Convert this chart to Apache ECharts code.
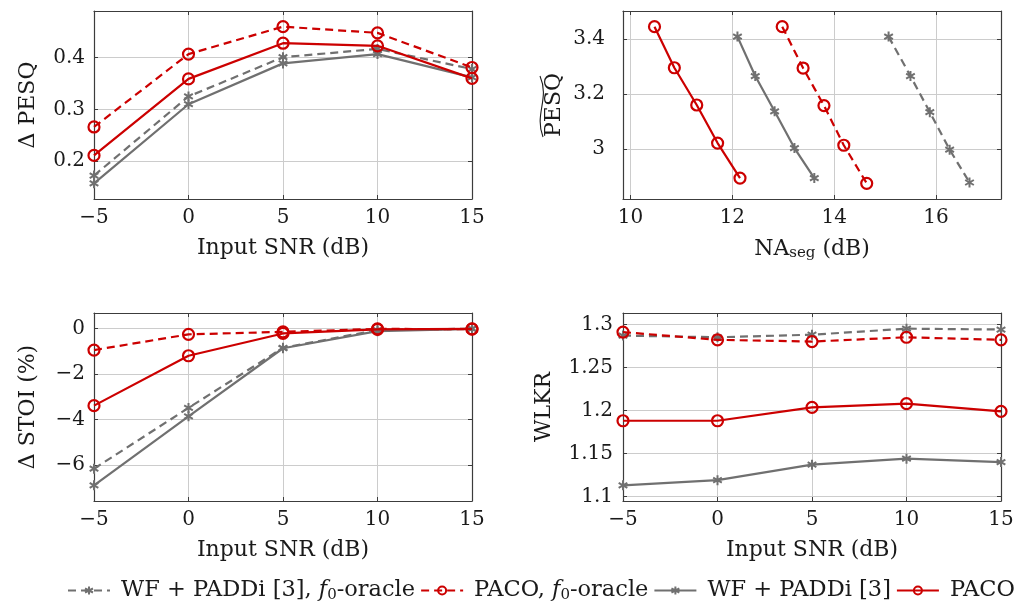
<!DOCTYPE html>
<html>
<head>
<meta charset="utf-8">
<script src="https://cdn.jsdelivr.net/npm/echarts@6/dist/echarts.min.js"></script>
<style>
  html, body { margin: 0; padding: 0; background: #fff; }
  #chart { width: 1024px; height: 604px; }
</style>
</head>
<body>
<div id="chart"></div>
<script>
// Input SNR values (dB) shared by three panels
const snr = [-5, 0, 5, 10, 15];

// Delta PESQ
const pesqWfOracle   = [0.172, 0.325, 0.401, 0.417, 0.378];
const pesqPacoOracle = [0.266, 0.407, 0.460, 0.448, 0.381];
const pesqWf         = [0.157, 0.310, 0.389, 0.407, 0.362];
const pesqPaco       = [0.211, 0.359, 0.428, 0.423, 0.360];

// PESQ vs. segmental noise attenuation trade-off
const naWfOracle   = [15.07, 15.50, 15.88, 16.27, 16.66];
const tpWfOracle   = [3.408, 3.265, 3.134, 2.998, 2.879];
const naPacoOracle = [12.98, 13.39, 13.80, 14.19, 14.64];
const tpPacoOracle = [3.444, 3.294, 3.158, 3.014, 2.876];
const naWf         = [12.10, 12.45, 12.83, 13.22, 13.61];
const tpWf         = [3.408, 3.265, 3.137, 3.004, 2.895];
const naPaco       = [10.47, 10.86, 11.30, 11.71, 12.15];
const tpPaco       = [3.444, 3.295, 3.160, 3.022, 2.895];

// Delta STOI (%)
const stoiWfOracle   = [-6.16, -3.49, -0.85, -0.07, -0.01];
const stoiPacoOracle = [-0.95, -0.26, -0.15, -0.02, -0.03];
const stoiWf         = [-6.89, -3.86, -0.87, -0.12, -0.02];
const stoiPaco       = [-3.39, -1.20, -0.22, -0.04, -0.02];

// WLKR
const wlkrWfOracle   = [1.287, 1.285, 1.288, 1.295, 1.294];
const wlkrPacoOracle = [1.291, 1.282, 1.280, 1.285, 1.282];
const wlkrWf         = [1.113, 1.119, 1.137, 1.144, 1.140];
const wlkrPaco       = [1.188, 1.188, 1.2035, 1.208, 1.199];

const names = ['WF + PADDi [3], f0-oracle', 'PACO, f0-oracle', 'WF + PADDi [3]', 'PACO'];

const RED = '#cc0000';
const GRAY = '#707070';
const FONT = 'DejaVu Serif';
const TXT = '#1a1a1a';
const BOX = '#3c3c3c';
const GRID = '#cccccc';

const ASTERISK = 'path://M0.5,0L0.5,1M0.067,0.25L0.933,0.75M0.067,0.75L0.933,0.25';

// axis range padded by 10% of the data span on both ends
function padded(arrs) {
  const all = [].concat(...arrs);
  const lo = Math.min(...all), hi = Math.max(...all);
  const d = (hi - lo) * 0.1;
  return [lo - d, hi + d];
}
const fmt = v => String(+v.toFixed(4)).replace('-', '\u2212');

const panels = [
  { left: 94, top: 11, x: [-5, 15], xStep: 5, yStep: 0.1,
    y: padded([pesqWfOracle, pesqPacoOracle, pesqWf, pesqPaco]),
    xName: 'Input SNR (dB)', yName: '\u0394 PESQ', yGap: 55, yMargin: 9 },
  { left: 623, top: 11, x: padded([naWfOracle, naPacoOracle, naWf, naPaco]), xStep: 2, yStep: 0.2,
    y: padded([tpWfOracle, tpPacoOracle, tpWf, tpPaco]),
    xName: '{a|NA}{b|seg}{a| (dB)}', yName: 'PESQ', yGap: 58, yMargin: 18 },
  { left: 94, top: 313, x: [-5, 15], xStep: 5, yStep: 2,
    y: padded([stoiWfOracle, stoiPacoOracle, stoiWf, stoiPaco]),
    xName: 'Input SNR (dB)', yName: '\u0394 STOI (%)', yGap: 55, yMargin: 9 },
  { left: 623, top: 313, x: [-5, 15], xStep: 5, yStep: 0.05,
    y: padded([wlkrWfOracle, wlkrPacoOracle, wlkrWf, wlkrPaco]),
    xName: 'Input SNR (dB)', yName: 'WLKR', yGap: 68, yMargin: 10 }
];

const grids = [], xAxes = [], yAxes = [];
panels.forEach((p, i) => {
  grids.push({ left: p.left, top: p.top, width: 378, height: 188 });
  const xFixed = p.x[0] % p.xStep === 0;
  const common = (min, max, step) => ({
    type: 'value', gridIndex: i, min: min, max: max,
    minInterval: step, maxInterval: step, splitNumber: 4
  });
  const frame = {
    axisLine: { show: true, onZero: false, lineStyle: { color: BOX, width: 1.2 } },
    axisTick: { show: true, inside: true, length: 4, lineStyle: { color: BOX } }
  };
  xAxes.push(Object.assign(common(p.x[0], p.x[1], p.xStep), frame, {
    position: 'bottom',
    splitLine: { show: true, lineStyle: { color: GRID, width: 1 } },
    axisLabel: { fontFamily: FONT, fontSize: 20, color: TXT, margin: 9, formatter: fmt,
                 showMinLabel: xFixed, showMaxLabel: xFixed },
    name: p.xName, nameLocation: 'middle', nameGap: 38,
    nameTextStyle: { fontFamily: FONT, fontSize: 22, color: TXT,
      rich: { a: { fontFamily: FONT, fontSize: 22, color: TXT },
              b: { fontFamily: FONT, fontSize: 15, color: TXT, padding: [9, 0, 0, 0] } } }
  }));
  xAxes.push(Object.assign(common(p.x[0], p.x[1], p.xStep), frame, {
    position: 'top', splitLine: { show: false }, axisLabel: { show: false }
  }));
  yAxes.push(Object.assign(common(p.y[0], p.y[1], p.yStep), frame, {
    position: 'left',
    splitLine: { show: true, lineStyle: { color: GRID, width: 1 } },
    axisLabel: { fontFamily: FONT, fontSize: 20, color: TXT, margin: p.yMargin, formatter: fmt,
                 showMinLabel: false, showMaxLabel: false },
    name: p.yName, nameLocation: 'middle', nameGap: p.yGap, nameRotate: 90,
    nameTextStyle: { fontFamily: FONT, fontSize: 22, color: TXT }
  }));
  yAxes.push(Object.assign(common(p.y[0], p.y[1], p.yStep), frame, {
    position: 'right', splitLine: { show: false }, axisLabel: { show: false }
  }));
});

const zip = (xs, ys) => xs.map((x, k) => [x, ys[k]]);

// style per method: [name, color, dashed, mark]
const styles = [
  [names[0], GRAY, true, 'asterisk'],
  [names[1], RED, true, 'circle'],
  [names[2], GRAY, false, 'asterisk'],
  [names[3], RED, false, 'circle']
];

function line(panel, styleIdx, data) {
  const [name, color, dashed, mark] = styles[styleIdx];
  const isCircle = mark === 'circle';
  return {
    type: 'line', name: name,
    xAxisIndex: panel * 2, yAxisIndex: panel * 2,
    data: data,
    symbol: isCircle ? 'circle' : ASTERISK,
    symbolSize: isCircle ? 11 : 10,
    symbolKeepAspect: true,
    showAllSymbol: true,
    lineStyle: { color: color, width: 2.2, type: dashed ? [8, 5] : 'solid' },
    itemStyle: isCircle
      ? { color: 'rgba(255,255,255,0)', borderColor: color, borderWidth: 2.2 }
      : { color: color, borderColor: color, borderWidth: 2 },
    emphasis: { disabled: true },
    z: isCircle ? 3 : 2
  };
}

// gray curves first so the red ones sit on top
const series = [
  line(0, 0, zip(snr, pesqWfOracle)), line(0, 2, zip(snr, pesqWf)),
  line(0, 1, zip(snr, pesqPacoOracle)), line(0, 3, zip(snr, pesqPaco)),
  line(1, 0, zip(naWfOracle, tpWfOracle)), line(1, 2, zip(naWf, tpWf)),
  line(1, 1, zip(naPacoOracle, tpPacoOracle)), line(1, 3, zip(naPaco, tpPaco)),
  line(2, 0, zip(snr, stoiWfOracle)), line(2, 2, zip(snr, stoiWf)),
  line(2, 1, zip(snr, stoiPacoOracle)), line(2, 3, zip(snr, stoiPaco)),
  line(3, 0, zip(snr, wlkrWfOracle)), line(3, 2, zip(snr, wlkrWf)),
  line(3, 1, zip(snr, wlkrPacoOracle)), line(3, 3, zip(snr, wlkrPaco))
];

const chart = echarts.init(document.getElementById('chart'), null, { renderer: 'canvas' });
chart.setOption({
  animation: false,
  backgroundColor: '#fff',
  grid: grids,
  xAxis: xAxes,
  yAxis: yAxes,
  series: series,
  legend: {
    data: names,
    left: 62, top: 574,
    itemWidth: 42, itemHeight: 10, itemGap: 5,
    selectedMode: false,
    textStyle: {
      fontFamily: FONT, fontSize: 22, color: TXT, padding: [0, 0, 0, 6],
      rich: {
        n: { fontFamily: FONT, fontSize: 22.5, color: TXT },
        i: { fontFamily: FONT, fontSize: 22.5, color: TXT, fontStyle: 'italic' },
        s: { fontFamily: FONT, fontSize: 15, color: TXT, padding: [9, 0, 0, 0] }
      }
    },
    formatter: function (n) {
      const m = n.match(/^(.*)f0(-oracle)$/);
      return m ? '{n|' + m[1] + '}{i|f}{s|0}{n|' + m[2] + '}' : '{n|' + n + '}';
    }
  },
  graphic: [{
    // wide tilde over the rotated PESQ label
    type: 'bezierCurve',
    shape: { x1: 543, y1: 137, cpx1: 534, cpy1: 114, cpx2: 550, cpy2: 99, x2: 540, y2: 76 },
    style: { stroke: TXT, lineWidth: 1.1, fill: null }
  }]
});
</script>
</body>
</html>
